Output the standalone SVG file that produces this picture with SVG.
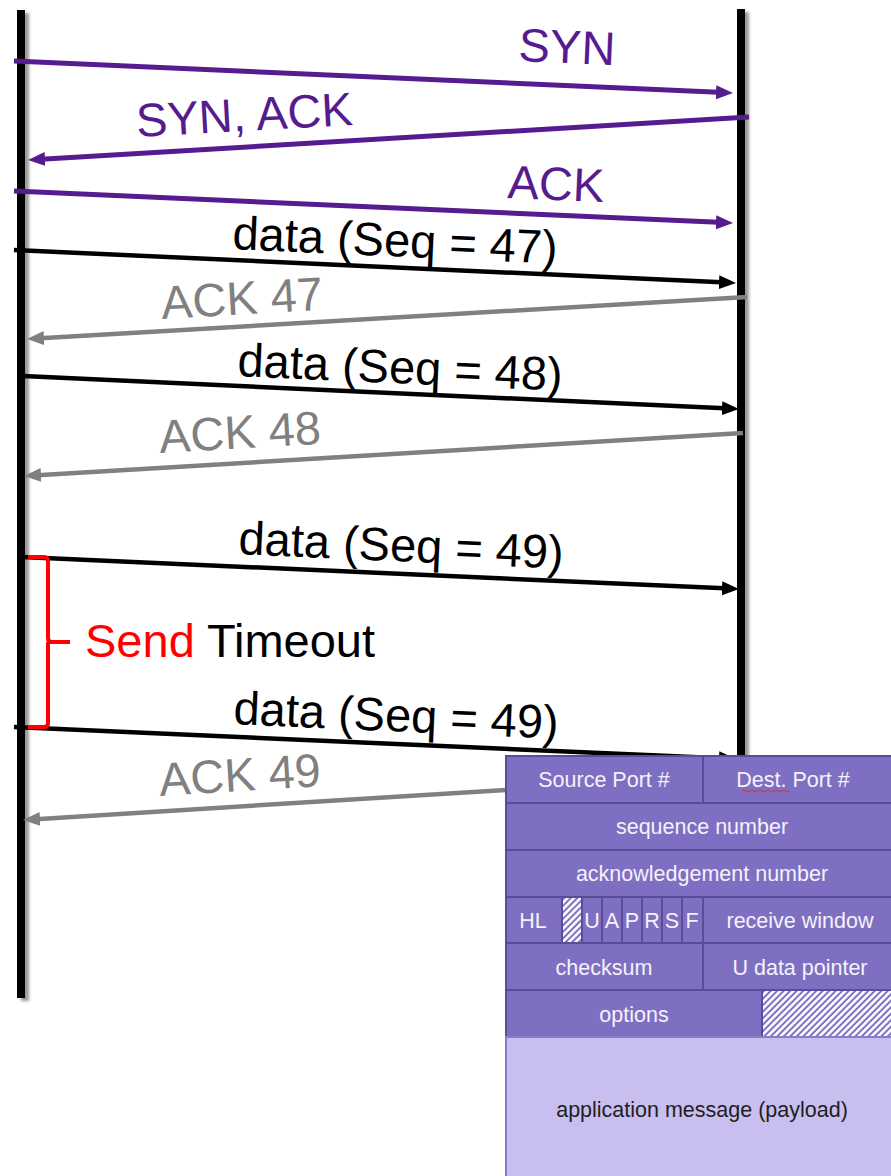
<svg xmlns="http://www.w3.org/2000/svg" width="891" height="1176" viewBox="0 0 891 1176">
<style>
.lbl{font-family:"Liberation Sans",Arial,sans-serif;font-size:47px}
.pur{fill:#561B8F}
.blk{fill:#000}
.gry{fill:#808080}
.cell{fill:#7F6FC2;stroke:#5B4B9B;stroke-width:2}
.hat{fill:url(#hatch);stroke:#5B4B9B;stroke-width:2}
.ht{font-family:"Liberation Sans",Arial,sans-serif;font-size:21.5px;fill:#F4F2FA;text-anchor:middle}
.pt{font-family:"Liberation Sans",Arial,sans-serif;font-size:21.5px;fill:#1E1E1E;text-anchor:middle}
.c-p{stroke:#561B8F;stroke-width:5;fill:none}
.c-b{stroke:#000;stroke-width:4.5;fill:none}
.c-g{stroke:#808080;stroke-width:4.5;fill:none}
</style>
<defs>
<filter id="sh" x="-60%" y="-2%" width="320%" height="104%">
<feDropShadow dx="4" dy="3" stdDeviation="1.8" flood-color="#000" flood-opacity="0.4"/>
</filter>
<marker id="ap" markerUnits="userSpaceOnUse" markerWidth="18" markerHeight="16" viewBox="0 0 18 16" refX="8" refY="8" orient="auto"><path d="M0,1 L17,8 L0,15 z" fill="#561B8F"/></marker>
<marker id="ab" markerUnits="userSpaceOnUse" markerWidth="18" markerHeight="16" viewBox="0 0 18 16" refX="8" refY="8" orient="auto"><path d="M0,1 L17,8 L0,15 z" fill="#000"/></marker>
<marker id="ag" markerUnits="userSpaceOnUse" markerWidth="18" markerHeight="16" viewBox="0 0 18 16" refX="8" refY="8" orient="auto"><path d="M0,1 L17,8 L0,15 z" fill="#808080"/></marker>
<pattern id="hatch" patternUnits="userSpaceOnUse" width="4.6" height="4.6" patternTransform="rotate(45)">
<rect width="4.6" height="4.6" fill="#7F6FC2"/>
<rect width="2.6" height="4.6" fill="#FFFFFF"/>
</pattern>
</defs>
<rect width="891" height="1176" fill="#FFFFFF"/>

<g id="lifeline-left"><rect x="17" y="10" width="8" height="988" fill="#000" filter="url(#sh)"/></g>
<g id="lifeline-right"><rect x="737" y="9" width="8" height="760" fill="#000" filter="url(#sh)"/></g>

<g id="connectors">
<line class="c-p" x1="14" y1="61" x2="724" y2="92.6" marker-end="url(#ap)"/>
<line class="c-p" x1="749" y1="117" x2="37" y2="159.5" marker-end="url(#ap)"/>
<line class="c-p" x1="14" y1="191" x2="724" y2="222.6" marker-end="url(#ap)"/>
<line class="c-b" x1="14" y1="250" x2="727" y2="282.6" marker-end="url(#ab)"/>
<line class="c-g" x1="747" y1="297" x2="36" y2="338.5" marker-end="url(#ag)"/>
<line class="c-b" x1="23" y1="376" x2="730" y2="408.6" marker-end="url(#ab)"/>
<line class="c-g" x1="743" y1="433" x2="33" y2="475.5" marker-end="url(#ag)"/>
<line class="c-b" x1="22" y1="557" x2="730" y2="588.6" marker-end="url(#ab)"/>
<line class="c-b" x1="14" y1="727" x2="727" y2="758.6" marker-end="url(#ab)"/>
<line class="c-g" x1="745" y1="775" x2="32" y2="819.4" marker-end="url(#ag)"/>
</g>

<g id="labels">
<text class="lbl pur" x="518" y="61" transform="rotate(2.5 518 61)">SYN</text>
<text class="lbl pur" x="137" y="137" transform="rotate(-3.2 137 137)">SYN, ACK</text>
<text class="lbl pur" x="507" y="198" transform="rotate(2.5 507 198)">ACK</text>
<text class="lbl blk" x="232" y="249" transform="rotate(2.6 232 249)">data (Seq = 47)</text>
<text class="lbl gry" x="162" y="319" transform="rotate(-3.3 162 319)">ACK 47</text>
<text class="lbl blk" x="237" y="376" transform="rotate(2.6 237 376)">data (Seq = 48)</text>
<text class="lbl gry" x="160" y="453" transform="rotate(-3.3 160 453)">ACK 48</text>
<text class="lbl blk" x="238" y="554" transform="rotate(2.6 238 554)">data (Seq = 49)</text>
<text class="lbl blk" x="233" y="724" transform="rotate(2.6 233 724)">data (Seq = 49)</text>
<text class="lbl gry" x="160" y="796" transform="rotate(-3.5 160 796)">ACK 49</text>
</g>

<g id="timeout">
<path d="M28,557 H44 Q48,557 48,561 V638 Q48,642 52,642 H70 M48,642 V723 Q48,727 44,727 H28" fill="none" stroke="#FF0000" stroke-width="4" stroke-linejoin="round"/>
<text class="lbl" x="85" y="657"><tspan fill="#FF0000">Send</tspan><tspan fill="#000"> Timeout</tspan></text>
</g>

<g id="tcp-header">
<rect class="cell" x="506" y="756" width="197" height="47"/>
<rect class="cell" x="703" y="756" width="197" height="47"/>
<rect class="cell" x="506" y="803" width="394" height="47"/>
<rect class="cell" x="506" y="850" width="394" height="47"/>
<rect class="cell" x="506" y="897" width="56" height="46"/>
<rect class="hat" x="562" y="897" width="20" height="46"/>
<rect class="cell" x="582" y="897" width="20" height="46"/>
<rect class="cell" x="602" y="897" width="20" height="46"/>
<rect class="cell" x="622" y="897" width="20" height="46"/>
<rect class="cell" x="642" y="897" width="20" height="46"/>
<rect class="cell" x="662" y="897" width="20" height="46"/>
<rect class="cell" x="682" y="897" width="21" height="46"/>
<rect class="cell" x="703" y="897" width="197" height="46"/>
<rect class="cell" x="506" y="943" width="197" height="47"/>
<rect class="cell" x="703" y="943" width="197" height="47"/>
<rect class="cell" x="506" y="990" width="256" height="47"/>
<rect class="hat" x="762" y="990" width="138" height="47"/>
<rect x="506" y="1037" width="394" height="145" fill="#C8BEEF" stroke="#8A7CC6" stroke-width="2"/>
<path d="M742,791 q2,-2 4,0 t4,0 t4,0 t4,0 t4,0 t4,0 t4,0 t4,0 t4,0 t4,0 t4,0 t4,0" fill="none" stroke="#D03030" stroke-width="1"/>
<text class="ht" x="604" y="787">Source Port #</text>
<text class="ht" x="793" y="787">Dest. Port #</text>
<text class="ht" x="702" y="834">sequence number</text>
<text class="ht" x="702" y="881">acknowledgement number</text>
<text class="ht" x="533" y="928">HL</text>
<text class="ht" x="592" y="928">U</text>
<text class="ht" x="612" y="928">A</text>
<text class="ht" x="632" y="928">P</text>
<text class="ht" x="652" y="928">R</text>
<text class="ht" x="672" y="928">S</text>
<text class="ht" x="692" y="928">F</text>
<text class="ht" x="800" y="928">receive window</text>
<text class="ht" x="604" y="975">checksum</text>
<text class="ht" x="800" y="975">U data pointer</text>
<text class="ht" x="634" y="1022">options</text>
<text class="pt" x="702" y="1117">application message (payload)</text>
</g>
</svg>
